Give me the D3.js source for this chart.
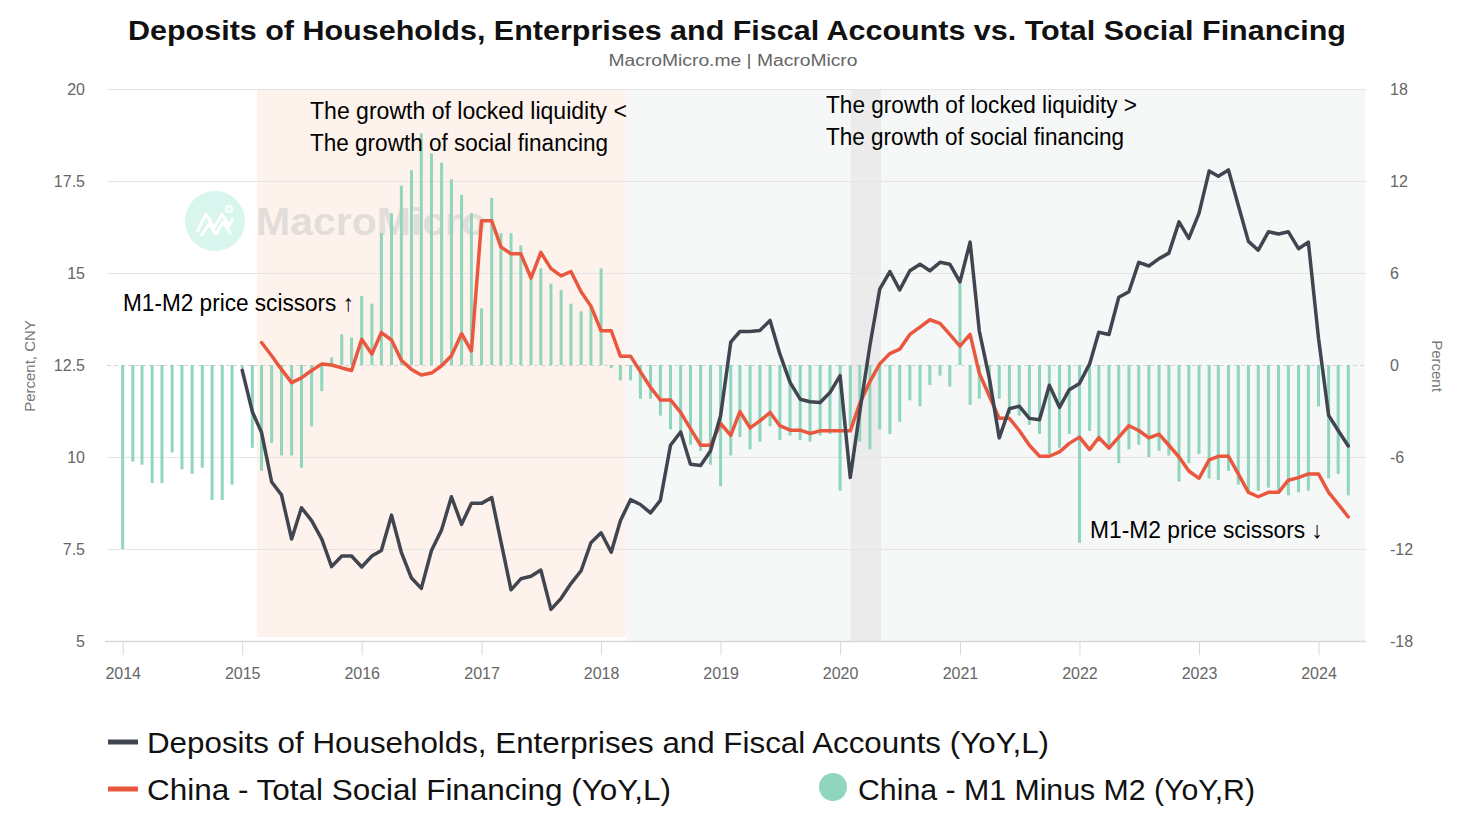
<!DOCTYPE html>
<html><head><meta charset="utf-8">
<script src="https://cdn.jsdelivr.net/npm/d3@7"></script>
<style>
body{margin:0;background:#fff}
svg{display:block}
text{font-family:"Liberation Sans",Arial,Helvetica,sans-serif}
</style>
</head><body>
<svg id="chart" width="1467" height="825"></svg>
<script>
// ---------------- DATA ----------------
const barStart = "2014-01";   // China - M1 Minus M2 (YoY,R)
const m1m2 = [
  -12.0,-6.3,-6.5,-7.7,-7.7,-5.7,-6.8,-7.1,-6.7,-8.8,-8.8,-7.8,
  -0.2,-5.4,-6.9,-5.1,-5.9,-5.9,-6.7,-4.0,-1.7,0.5,2.0,1.8,
  4.5,4.0,8.6,9.9,11.7,12.7,15.1,13.8,13.2,12.1,11.1,9.9,
  3.7,10.9,8.6,8.6,7.8,6.1,6.3,5.3,4.9,4.0,3.5,3.9,
  6.3,-0.2,-1.0,-1.0,-2.2,-2.2,-3.3,-4.2,-4.6,-5.2,-5.6,-6.5,
  -7.9,-5.9,-4.7,-5.5,-5.0,-4.0,-4.9,-4.6,-4.9,-5.0,-4.6,-4.5,
  -8.2,-4.0,-5.0,-5.5,-4.2,-4.5,-3.7,-2.3,-2.7,-1.3,-0.7,-1.4,
  5.4,-2.6,-2.2,-1.9,-2.2,-3.2,-3.3,-3.9,-4.5,-5.8,-5.4,-4.5,
  -11.6,-4.3,-5.0,-5.4,-6.4,-5.5,-5.2,-6.0,-5.6,-5.9,-7.6,-6.4,
  -5.8,-7.4,-7.5,-6.9,-7.8,-8.2,-8.2,-8.0,-8.2,-8.5,-8.3,-8.2,
  -2.7,-7.4,-7.1,-8.5
];
const depStart = "2015-01";   // Deposits of Households, Enterprises and Fiscal Accounts (YoY,L)
const deposits = [
  12.36,11.23,10.67,9.32,8.97,7.77,8.62,8.27,7.77,7.02,7.31,7.31,
  7.01,7.31,7.46,8.42,7.41,6.71,6.43,7.46,8.02,8.92,8.17,8.74,
  8.74,8.90,7.71,6.39,6.69,6.76,6.93,5.86,6.16,6.56,6.91,7.67,
  7.94,7.41,8.27,8.84,8.71,8.48,8.82,10.32,10.68,9.80,9.77,10.16,
  11.12,13.12,13.41,13.41,13.44,13.71,12.80,12.03,11.57,11.50,11.48,11.75,
  12.21,9.44,11.23,13.03,14.56,15.04,14.54,15.06,15.24,15.06,15.29,15.24,
  14.76,15.84,13.43,12.13,10.52,11.31,11.38,11.05,11.01,11.95,11.35,11.83,
  12.00,12.53,13.39,13.33,14.34,14.49,15.29,15.19,15.39,15.54,16.39,15.94,
  16.62,17.77,17.63,17.80,16.84,15.86,15.62,16.12,16.06,16.12,15.66,15.84,
  13.23,11.13,10.72,10.30
];
const tsfStart = "2015-03";   // China - Total Social Financing (YoY,L)
const tsf = [
  13.11,12.75,12.38,12.02,12.15,12.35,12.53,12.50,12.42,12.35,
  13.20,12.80,13.38,13.18,12.63,12.38,12.23,12.28,12.48,12.75,13.35,12.88,
  16.42,16.42,15.71,15.52,15.52,14.86,15.56,15.12,14.92,15.04,14.49,14.10,
  13.43,13.43,12.74,12.74,12.32,11.89,11.55,11.55,11.21,10.77,10.32,10.32,
  10.91,10.59,11.23,10.79,10.98,11.21,10.85,10.73,10.73,10.64,10.71,10.71,
  10.71,10.71,11.45,12.05,12.53,12.81,12.93,13.33,13.53,13.73,13.63,13.33,
  13.01,13.33,12.28,11.65,11.05,11.05,10.72,10.32,10.02,10.02,10.14,10.37,
  10.54,10.20,10.53,10.24,10.54,10.85,10.72,10.52,10.62,10.32,10.00,9.62,
  9.42,9.92,10.02,10.02,9.54,9.04,8.92,9.04,9.04,9.37,9.44,9.54,
  9.54,9.04,8.72,8.37
];
const leftTicks = [5, 7.5, 10, 12.5, 15, 17.5, 20];
const rightTicks = [-18, -12, -6, 0, 6, 12, 18];
const yearTicks = [2014,2015,2016,2017,2018,2019,2020,2021,2022,2023,2024];
const bands = [
  {from:"2015-02-15", to:"2018-03-20", color:"#fdf3ec"},
  {from:"2018-03-20", to:"2024-05-22", color:"#f6f7f7"},
  {from:"2020-02-03", to:"2020-05-05", color:"#ebebeb"}
];
const titleText = "Deposits of Households, Enterprises and Fiscal Accounts vs. Total Social Financing";
const subtitleText = "MacroMicro.me | MacroMicro";
const legendItems = [
  {label:"Deposits of Households, Enterprises and Fiscal Accounts (YoY,L)", type:"line", color:"#40454f"},
  {label:"China - Total Social Financing (YoY,L)", type:"line", color:"#e9573f"},
  {label:"China - M1 Minus M2 (YoY,R)", type:"dot", color:"#90d5bd"}
];

// ---------------- SETUP ----------------
const svg = d3.select("#chart");
const parseM = d3.timeParse("%Y-%m");
const parseD = d3.timeParse("%Y-%m-%d");
const plot = {left:105, right:1366, top:89, bottom:641};

const x = d3.scaleTime()
  .domain([parseD("2013-11-08"), parseD("2024-05-22")])
  .range([plot.left, 1365]);
const yL = d3.scaleLinear().domain([5,20]).range([plot.bottom, plot.top]);
const yR = d3.scaleLinear().domain([-18,18]).range([plot.bottom, plot.top]);

function series(start, vals){
  const s = parseM(start);
  return vals.map((v,i)=>({date:d3.timeMonth.offset(s,i), v}));
}
const barData = series(barStart, m1m2);
const depData = series(depStart, deposits);
const tsfData = series(tsfStart, tsf);

function txt(g, xx, yy, s, o){
  const t = g.append("text").attr("x",xx).attr("y",yy).text(s)
    .attr("font-size",o.size).attr("fill",o.fill||"#000")
    .attr("text-anchor",o.anchor||"start");
  if(o.weight) t.attr("font-weight",o.weight);
  if(o.width){ t.attr("textLength",o.width).attr("lengthAdjust","spacingAndGlyphs"); }
  if(o.transform) t.attr("transform",o.transform);
  return t;
}

// bands
svg.append("g").selectAll("rect").data(bands).join("rect")
  .attr("x",d=>x(parseD(d.from)))
  .attr("width",d=>x(parseD(d.to))-x(parseD(d.from)))
  .attr("y",plot.top+1).attr("height",d=>d.color==="#fdf3ec"?547:551)
  .attr("fill",d=>d.color);

// gridlines
svg.append("g").selectAll("line").data(leftTicks).join("line")
  .attr("x1",plot.left+2).attr("x2",plot.right)
  .attr("y1",d=>yL(d)+0.5).attr("y2",d=>yL(d)+0.5)
  .attr("stroke",d=>d===12.5?"#d4d4d4":"#e4e4e4")
  .attr("stroke-dasharray",d=>d===12.5?"4,3":null)
  .attr("stroke-width",1);

// watermark
const wm = svg.append("g").attr("opacity",0.85);
wm.append("circle").attr("cx",215).attr("cy",221).attr("r",30).attr("fill","#d2f5ec");
wm.append("path").attr("d","M197,232 L206,214 L214,228 L222,214 L229,226 L233,218")
  .attr("fill","none").attr("stroke","#fff").attr("stroke-width",3).attr("stroke-linejoin","round");
wm.append("path").attr("d","M201,236 L209,224 L216,234 L223,222 L231,234")
  .attr("fill","none").attr("stroke","#fff").attr("stroke-width",3).attr("stroke-linejoin","round");
wm.append("circle").attr("cx",229).attr("cy",209).attr("r",3).attr("fill","none").attr("stroke","#fff").attr("stroke-width",2);
txt(wm,256,235,"MacroMicro",{size:39,fill:"#dedad8",weight:"bold",width:230});

// bars
svg.append("g").selectAll("rect").data(barData.filter(d=>d.v!=null)).join("rect")
  .attr("x",d=>x(d.date)-1.5).attr("width",3)
  .attr("y",d=>Math.min(yR(d.v),yR(0)))
  .attr("height",d=>Math.abs(yR(d.v)-yR(0)))
  .attr("fill","#90d5bd");

// lines
const line = d3.line().x(d=>x(d.date)).y(d=>yL(d.v));
svg.append("path").datum(tsfData).attr("d",line)
  .attr("fill","none").attr("stroke","#e9573f").attr("stroke-width",3.5)
  .attr("stroke-linejoin","round").attr("stroke-linecap","round");
svg.append("path").datum(depData).attr("d",line)
  .attr("fill","none").attr("stroke","#40454f").attr("stroke-width",3.5)
  .attr("stroke-linejoin","round").attr("stroke-linecap","round");

// x axis
const xAxis = d3.axisBottom(x)
  .tickValues(yearTicks.map(yv=>new Date(yv,0,1)))
  .tickFormat(d3.timeFormat("%Y")).tickSize(14).tickPadding(13);
const gx = svg.append("g").attr("transform",`translate(0,${plot.bottom})`).call(xAxis);
gx.select(".domain").attr("d",`M${plot.left},0.5H${plot.right}`).attr("stroke","#d8d8d8").attr("stroke-width",1.5);
gx.selectAll(".tick line").attr("stroke","#d8d8d8");
gx.selectAll(".tick text").attr("fill","#666").attr("font-size",16)
  .attr("font-family","'Liberation Sans',Arial,sans-serif");

// left axis
const yAxisL = d3.axisLeft(yL).tickValues(leftTicks).tickSize(0).tickPadding(0)
  .tickFormat(d=>String(d));
const gyl = svg.append("g").attr("transform","translate(85,0)").call(yAxisL);
gyl.select(".domain").remove();
gyl.selectAll(".tick text").attr("fill","#666").attr("font-size",16)
  .attr("font-family","'Liberation Sans',Arial,sans-serif");

// right axis
const yAxisR = d3.axisRight(yR).tickValues(rightTicks).tickSize(0).tickPadding(0)
  .tickFormat(d=>String(d));
const gyr = svg.append("g").attr("transform","translate(1390,0)").call(yAxisR);
gyr.select(".domain").remove();
gyr.selectAll(".tick text").attr("fill","#666").attr("font-size",16)
  .attr("font-family","'Liberation Sans',Arial,sans-serif");

// axis titles
txt(svg,0,0,"Percent, CNY",{size:15,fill:"#777",anchor:"middle",transform:"translate(35,366) rotate(-90)"});
txt(svg,0,0,"Percent",{size:15,fill:"#777",anchor:"middle",transform:"translate(1432,366) rotate(90)"});

// title / subtitle
txt(svg,737,40,titleText,{size:28,weight:"bold",anchor:"middle",width:1218,fill:"#111"});
txt(svg,733,66,subtitleText,{size:16,fill:"#666",anchor:"middle",width:249});

// annotations
txt(svg,310,119,"The growth of locked liquidity  <",{size:23,width:317});
txt(svg,310,151,"The growth of social financing",{size:23,width:298});
txt(svg,826,113,"The growth of locked liquidity >",{size:23,width:311});
txt(svg,826,145,"The growth of social financing",{size:23,width:298});
txt(svg,123,311,"M1-M2 price scissors \u2191",{size:23,width:231});
txt(svg,1090,538,"M1-M2 price scissors \u2193",{size:23,width:233});

// legend
const lg = svg.append("g");
const legPos = [{x:108,y:742,w:902},{x:108,y:789,w:524},{x:820,y:789,w:397}];
legendItems.forEach((it,i)=>{
  const p = legPos[i];
  if(it.type==="line"){
    lg.append("line").attr("x1",p.x).attr("x2",p.x+30).attr("y1",p.y).attr("y2",p.y)
      .attr("stroke",it.color).attr("stroke-width",5);
    txt(lg,p.x+39,p.y+10.5,it.label,{size:30,width:p.w,fill:"#111"});
  } else {
    lg.append("circle").attr("cx",p.x+13).attr("cy",p.y-2).attr("r",14).attr("fill",it.color);
    txt(lg,p.x+38,p.y+10.5,it.label,{size:30,width:p.w,fill:"#111"});
  }
});
</script>
</body></html>
